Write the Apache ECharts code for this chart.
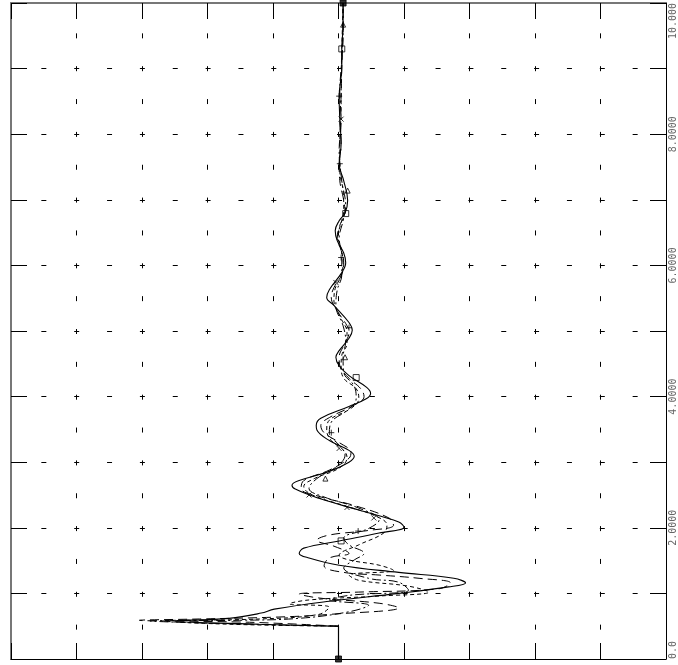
<!DOCTYPE html>
<html>
<head>
<meta charset="utf-8">
<script src="https://cdn.jsdelivr.net/npm/echarts@6/dist/echarts.min.js"></script>
<style>
html,body{margin:0;padding:0;background:#fff;}
#chart{width:678px;height:665px;}
</style>
</head>
<body>
<div id="chart"></div>
<script>
// ---- data (x = amplitude, t = time along vertical axis) ----
const xMin = -5, xMax = 5;
const tMin = 0, tMax = 10;
const tTickValues = [0, 2, 4, 6, 8, 10];
const tTickLabels = ['0.0', '2.0000', '4.0000', '6.0000', '8.0000', '10.000'];

const stepSegment = [[0, 0], [0, 0.50]];

const curveA = [
  [0,0.50],[-1.21,0.53],[-2.50,0.58],[-1.67,0.62],[-1.18,0.70],[-0.98,0.76],[-0.14,0.88],
  [0.92,1.00],[1.68,1.10],[1.94,1.16],[1.76,1.23],[0.92,1.32],[0.01,1.43],[-0.45,1.54],
  [-0.60,1.61],[-0.53,1.69],[0.01,1.80],[0.62,1.92],[1.00,2.01],[0.92,2.09],[0.31,2.27],
  [-0.30,2.45],[-0.66,2.59],[-0.71,2.65],[-0.60,2.72],[-0.14,2.86],[0.16,3.00],[0.24,3.09],
  [0.16,3.18],[-0.14,3.33],[-0.33,3.49],[-0.34,3.56],[-0.27,3.67],[0.16,3.85],[0.43,3.97],
  [0.49,4.05],[0.43,4.14],[0.16,4.32],[0.01,4.47],[-0.04,4.60],[0.01,4.70],[0.16,4.89],
  [0.21,5.01],[0.16,5.13],[-0.07,5.39],[-0.18,5.51],[-0.14,5.63],[0.05,5.89],[0.11,6.04],
  [0.08,6.19],[-0.02,6.38],[-0.05,6.53],[0.01,6.68],[0.10,6.80],[0.14,6.99],[0.08,7.29],
  [0.01,7.55],[0.04,7.85],[0.02,8.23],[0.01,8.58],[0.05,9.01],[0.05,9.30],[0.07,9.67],[0.07,10.0]
];

const curveB = [
  [0,0.50],[-1.36,0.56],[-3.04,0.59],[-2.12,0.61],[-0.91,0.64],[-0.14,0.68],[0.92,0.78],
  [0.62,0.85],[-0.30,0.93],[-0.60,0.99],[0.31,1.02],[1.53,1.07],[1.71,1.16],[1.23,1.23],
  [0.62,1.28],[0.08,1.32],[-0.22,1.42],[-0.14,1.54],[0.16,1.61],[-0.07,1.72],[-0.33,1.81],
  [-0.14,1.89],[0.46,1.96],[0.84,2.04],[0.77,2.15],[0.24,2.34],[-0.30,2.48],[-0.57,2.60],
  [-0.53,2.72],[-0.14,2.88],[0.16,3.06],[0.19,3.15],[0.01,3.30],[-0.22,3.45],[-0.27,3.56],
  [-0.14,3.68],[0.24,3.87],[0.39,4.00],[0.34,4.12],[0.16,4.28],[0.02,4.47],[0.01,4.60],
  [0.08,4.78],[0.16,4.98],[0.13,5.08],[-0.02,5.31],[-0.11,5.51],[-0.07,5.66],[0.05,5.86],
  [0.08,6.04],[0.04,6.23],[-0.02,6.41],[0.02,6.61],[0.10,6.80],[0.08,6.99],[0.02,7.29],
  [0.01,7.55],[0.04,7.85],[0.02,8.23],[0.04,8.58],[0.05,9.01],[0.07,9.67],[0.07,10.0]
];

const curveC = [
  [0,0.50],[-1.67,0.53],[-2.66,0.58],[-1.21,0.61],[-0.30,0.68],[-0.14,0.79],[-0.75,0.84],
  [-0.45,0.90],[0.62,0.96],[1.38,1.02],[1.07,1.11],[0.31,1.20],[0.16,1.28],[0.84,1.35],
  [0.62,1.43],[0.16,1.51],[0.01,1.58],[0.31,1.74],[0.69,1.92],[0.74,2.04],[0.54,2.19],
  [0.08,2.34],[-0.42,2.51],[-0.53,2.63],[-0.37,2.75],[0.01,2.91],[0.13,3.07],[0.08,3.18],
  [-0.11,3.33],[-0.18,3.49],[-0.14,3.64],[0.19,3.82],[0.31,3.97],[0.27,4.12],[0.08,4.28],
  [0.04,4.47],[0.05,4.63],[0.13,4.81],[0.13,4.98],[0.04,5.19],[-0.07,5.46],[-0.05,5.65],
  [0.04,5.84],[0.07,6.04],[0.04,6.26],[-0.01,6.44],[0.04,6.65],[0.08,6.83],[0.07,7.14],
  [0.02,7.44],[0.02,7.90],[0.04,8.36],[0.04,8.81],[0.05,9.27],[0.07,10.0]
];

const curveD = [
  [0,0.50],[-2.12,0.55],[-2.88,0.58],[-1.51,0.59],[-0.60,0.62],[0.16,0.72],[0.46,0.82],
  [-0.14,0.90],[0.16,0.97],[1.07,1.05],[0.92,1.17],[0.46,1.23],[0.08,1.39],[0.24,1.51],
  [0.39,1.61],[0.16,1.74],[0.08,1.84],[0.46,1.99],[0.62,2.12],[0.31,2.30],[-0.22,2.47],
  [-0.45,2.60],[-0.33,2.75],[-0.02,2.94],[0.10,3.11],[0.01,3.26],[-0.14,3.44],[-0.11,3.61],
  [0.13,3.79],[0.27,3.97],[0.24,4.16],[0.08,4.37],[0.07,4.60],[0.11,4.85],[0.07,5.08],
  [-0.04,5.39],[-0.02,5.62],[0.05,5.86],[0.05,6.15],[0.01,6.41],[0.07,6.68],[0.11,6.91],
  [0.05,7.29],[0.01,7.75],[0.04,8.20],[0.02,8.66],[0.05,9.12],[0.07,9.57],[0.07,10.0]
];

const squareOpenMarks = [[0.04,1.80],[0.27,4.29],[0.11,6.79],[0.05,9.30]];
const squareFilledMarks = [[0,0],[0.07,10.0]];
const crossMarks = [[0.04,8.23],[-0.04,5.74],[0.01,3.21],[-0.45,2.50],[0.54,2.15],[0.13,2.31]];
const plusMarks = [[0.01,8.58],[0.02,7.55],[0.04,6.12],[0.16,5.05],[-0.11,3.45],[0.30,1.95]];
const triangleMarks = [[0.14,7.14],[0.07,9.67],[0.10,4.60],[-0.20,2.75]];

// ---- chart ----
const chart = echarts.init(document.getElementById('chart'), null, {renderer: 'canvas'});
const gridW = 657, gridH = 657;
const halfStepX = gridW / 20, halfStepY = gridH / 20;
const dashLen = 5;

const lineBase = {
  type: 'line', showSymbol: false, symbol: 'none', smooth: 0.4,
  xAxisIndex: 0, yAxisIndex: 0, animation: false, z: 3
};
const markBase = {
  type: 'scatter', xAxisIndex: 0, yAxisIndex: 0, animation: false, z: 5,
  symbolSize: 6,
  itemStyle: {color: 'rgba(0,0,0,0)', borderColor: '#000', borderWidth: 1}
};

const labelMap = {};
tTickValues.forEach((v, i) => { labelMap[v] = tTickLabels[i]; });

chart.setOption({
  backgroundColor: '#fff',
  animation: false,
  grid: {left: 11, right: 10, top: 2, bottom: 6, containLabel: false},
  xAxis: [
    {
      type: 'value', min: xMin, max: xMax, interval: 1, position: 'bottom',
      axisLine: {show: true, onZero: false, lineStyle: {color: '#000', width: 1}},
      axisTick: {show: true, inside: true, length: 16, lineStyle: {color: '#000', width: 1}},
      axisLabel: {show: false},
      splitLine: {show: true, lineStyle: {color: '#000', width: 1, type: [dashLen, halfStepY - dashLen], dashOffset: dashLen / 2}}
    },
    {
      type: 'value', min: xMin, max: xMax, interval: 1, position: 'top',
      axisLine: {show: true, onZero: false, lineStyle: {color: '#777', width: 2}},
      axisTick: {show: true, inside: true, length: 16, lineStyle: {color: '#000', width: 1}},
      axisLabel: {show: false},
      splitLine: {show: false}
    }
  ],
  yAxis: [
    {
      type: 'value', min: tMin, max: tMax, interval: 1, position: 'right',
      axisLine: {show: true, onZero: false, lineStyle: {color: '#000', width: 1}},
      axisTick: {show: true, inside: true, length: 16, lineStyle: {color: '#000', width: 1}},
      axisLabel: {
        show: true, rotate: 90, margin: 2,
        fontFamily: 'DejaVu Sans Mono', fontSize: 10, color: '#666',
        alignMinLabel: 'left', alignMaxLabel: 'right',
        formatter: v => (labelMap[v] !== undefined ? labelMap[v] : '')
      },
      splitLine: {show: true, lineStyle: {color: '#000', width: 1, type: [dashLen, halfStepX - dashLen], dashOffset: dashLen / 2}}
    },
    {
      type: 'value', min: tMin, max: tMax, interval: 1, position: 'left',
      axisLine: {show: true, onZero: false, lineStyle: {color: '#777', width: 2}},
      axisTick: {show: true, inside: true, length: 16, lineStyle: {color: '#000', width: 1}},
      axisLabel: {show: false},
      splitLine: {show: false}
    }
  ],
  series: [
    Object.assign({}, lineBase, {name: 'step', data: stepSegment, smooth: false,
      lineStyle: {color: '#000', width: 1.2}}),
    Object.assign({}, lineBase, {name: 'A', data: curveA,
      lineStyle: {color: '#000', width: 1.1, type: 'solid'}}),
    Object.assign({}, lineBase, {name: 'B', data: curveB,
      lineStyle: {color: '#000', width: 1, type: [9, 5]}}),
    Object.assign({}, lineBase, {name: 'C', data: curveC,
      lineStyle: {color: '#000', width: 1, type: [4, 3]}}),
    Object.assign({}, lineBase, {name: 'D', data: curveD,
      lineStyle: {color: '#000', width: 1, type: [9, 3, 2, 3]}}),
    Object.assign({}, markBase, {name: 'sqOpen', data: squareOpenMarks, symbol: 'rect', symbolSize: 6}),
    Object.assign({}, markBase, {name: 'sqFilled', data: squareFilledMarks, symbol: 'rect', symbolSize: 6,
      itemStyle: {color: '#000', borderColor: '#000', borderWidth: 1}}),
    Object.assign({}, markBase, {name: 'cross', data: crossMarks, symbol: 'path://M0,0L10,10M10,0L0,10', symbolSize: 5}),
    Object.assign({}, markBase, {name: 'plus', data: plusMarks, symbol: 'path://M5,0L5,10M0,5L10,5', symbolSize: 6}),
    Object.assign({}, markBase, {name: 'tri', data: triangleMarks, symbol: 'triangle', symbolSize: 5})
  ]
});
</script>
</body>
</html>
